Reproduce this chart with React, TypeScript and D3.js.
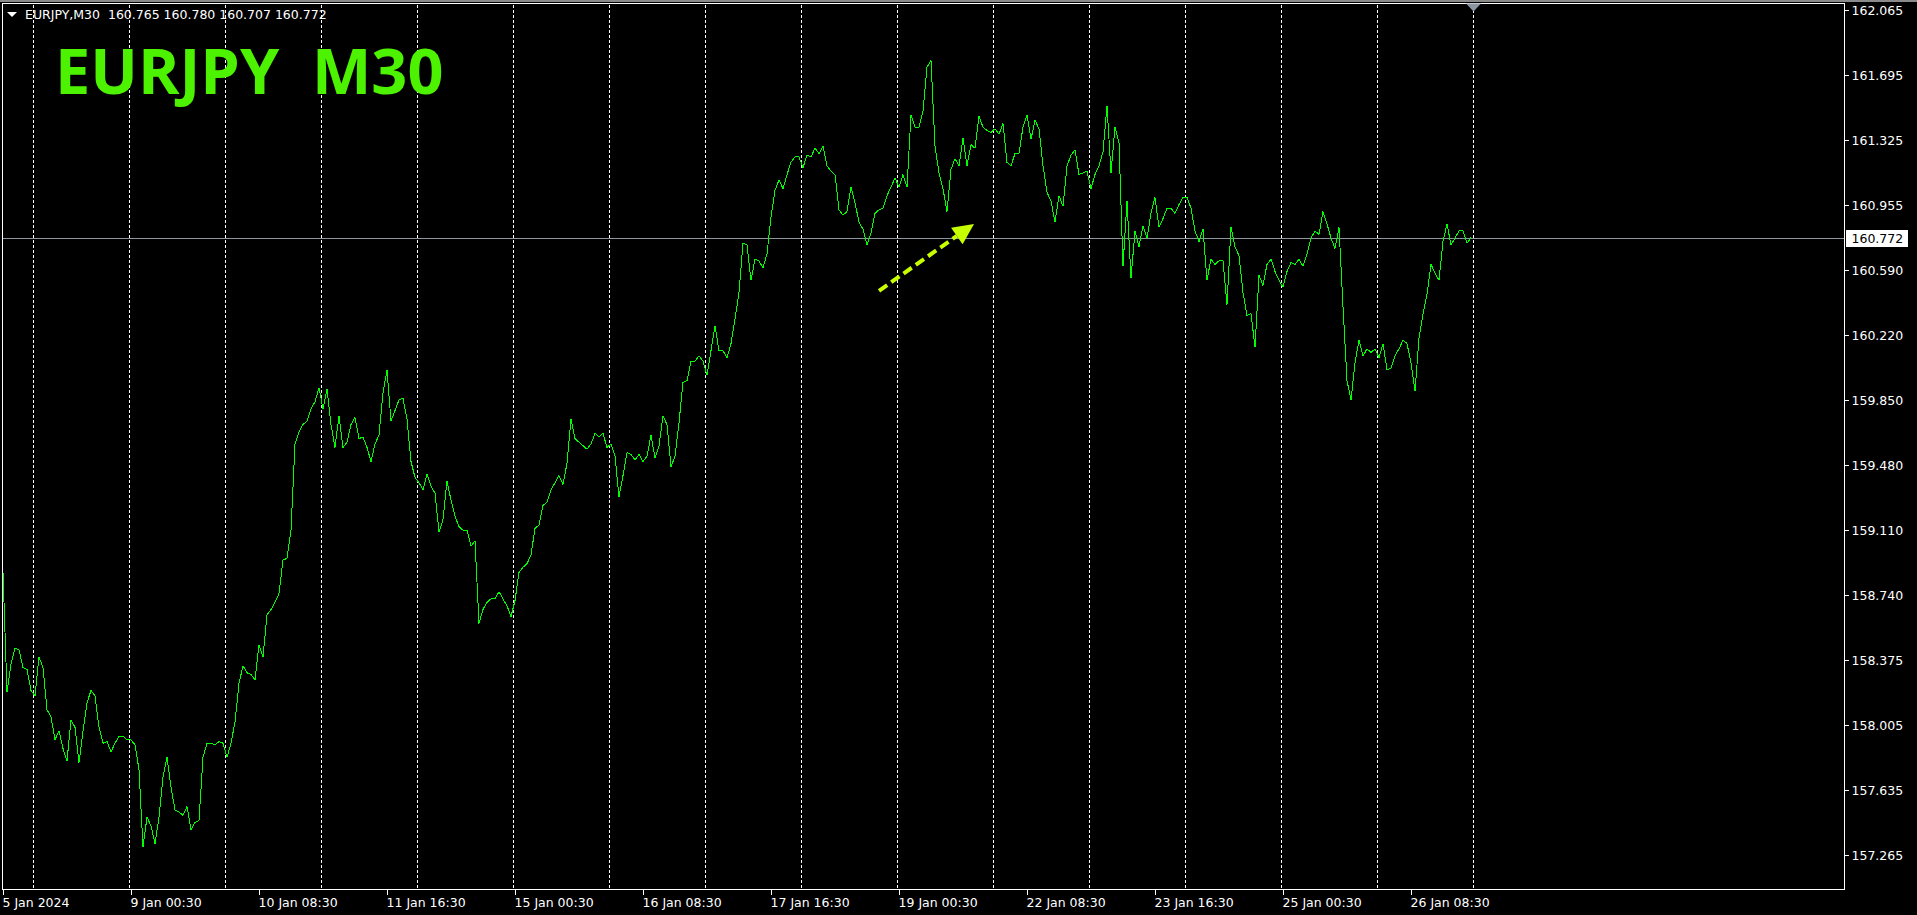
import { useEffect } from "react";
import * as d3 from "d3";

// header / title
const symbolName = "EURJPY,M30";
const titleText = "EURJPY  M30";
const lastQuote = [160.765, 160.78, 160.707, 160.772]; // open high low close
const currentPrice = 160.772;

const yTickLabels = [
  "162.065", "161.695", "161.325", "160.955", "160.590", "160.220", "159.850",
  "159.480", "159.110", "158.740", "158.375", "158.005", "157.635", "157.265",
];

const xTickLabels = [
  "5 Jan 2024", "9 Jan 00:30", "10 Jan 08:30", "11 Jan 16:30", "15 Jan 00:30", "16 Jan 08:30",
  "17 Jan 16:30", "19 Jan 00:30", "22 Jan 08:30", "23 Jan 16:30", "25 Jan 00:30", "26 Jan 08:30",
];

// closes, one every second M30 bar (hourly), 5 Jan 16:30 -> 26 Jan 23:30
const closes = [
  158.87, 158.19, 158.35, 158.44, 158.43, 158.33, 158.32, 158.2, 158.17, 158.39,
  158.33, 158.09, 158.05, 157.92, 157.97, 157.87, 157.8, 158.03, 157.99, 157.79,
  157.97, 158.13, 158.2, 158.17, 157.99, 157.9, 157.91, 157.85, 157.9, 157.94,
  157.94, 157.92, 157.92, 157.89, 157.75, 157.31, 157.48, 157.43, 157.33, 157.48,
  157.71, 157.82, 157.65, 157.52, 157.51, 157.49, 157.54, 157.41, 157.45, 157.46,
  157.82, 157.9, 157.9, 157.89, 157.91, 157.9, 157.82, 157.9, 158.02, 158.24,
  158.34, 158.3, 158.29, 158.26, 158.46, 158.39, 158.63, 158.66, 158.7, 158.75,
  158.94, 158.95, 159.11, 159.6, 159.67,
  159.71, 159.73, 159.8, 159.84, 159.92, 159.8, 159.91, 159.71, 159.58, 159.76,
  159.58, 159.61, 159.71, 159.75, 159.63, 159.64, 159.58, 159.5, 159.6, 159.65,
  159.89, 160.02, 159.73, 159.79, 159.85, 159.86, 159.74, 159.5, 159.41, 159.38,
  159.34, 159.43, 159.36, 159.32, 159.1, 159.17, 159.39, 159.28, 159.19, 159.13,
  159.11, 159.11, 159.02, 159.05, 158.58, 158.66, 158.7, 158.72, 158.72, 158.76,
  158.72, 158.68, 158.62, 158.71, 158.87, 158.9, 158.92, 158.97, 159.12, 159.14,
  159.25, 159.27, 159.34, 159.38, 159.42, 159.37, 159.49, 159.74, 159.63, 159.61,
  159.59, 159.57,
  159.6, 159.66, 159.64, 159.66, 159.58, 159.6, 159.53, 159.3, 159.42, 159.55,
  159.54, 159.51, 159.54, 159.5, 159.53, 159.65, 159.52, 159.59, 159.76, 159.71,
  159.47, 159.53, 159.72, 159.95, 159.96, 160.07, 160.07, 160.1, 160.07, 159.99,
  160.13, 160.27, 160.13, 160.13, 160.09, 160.17, 160.31, 160.46, 160.74, 160.73,
  160.53, 160.65, 160.64, 160.6, 160.68, 160.89, 161.04, 161.1, 161.05, 161.13,
  161.2, 161.23, 161.23, 161.17, 161.24, 161.23, 161.28, 161.25, 161.29, 161.18,
  161.15, 161.13, 160.93, 160.9, 160.92, 161.06, 160.97, 160.86, 160.82, 160.73,
  160.8, 160.91, 160.93,
  160.94, 161.01, 161.06, 161.11, 161.06, 161.13, 161.06, 161.47, 161.4, 161.4,
  161.49, 161.74, 161.78, 161.29, 161.14, 161.05, 160.92, 161.16, 161.22, 161.18,
  161.34, 161.18, 161.3, 161.28, 161.46, 161.4, 161.38, 161.37, 161.39, 161.36,
  161.42, 161.2, 161.18, 161.25, 161.25, 161.4, 161.47, 161.33, 161.44, 161.39,
  161.18, 161.03, 160.98, 160.86, 161.01, 160.95, 161.18, 161.24, 161.27, 161.13,
  161.14, 161.15, 161.05, 161.13, 161.18, 161.26, 161.52, 161.14, 161.4, 161.31,
  160.61, 160.98, 160.54, 160.81, 160.72, 160.84, 160.77, 160.91, 161.0, 160.83,
  160.88, 160.94,
  160.94, 160.91, 160.96, 161.0, 161.0, 160.94, 160.81, 160.75, 160.82, 160.53,
  160.65, 160.62, 160.64, 160.64, 160.39, 160.83, 160.72, 160.67, 160.46, 160.33,
  160.34, 160.15, 160.56, 160.5, 160.62, 160.65, 160.58, 160.53, 160.49, 160.58,
  160.63, 160.62, 160.65, 160.61, 160.68, 160.77, 160.81, 160.79, 160.92, 160.85,
  160.77, 160.71, 160.83, 160.38, 159.96, 159.85, 160.06, 160.19, 160.1, 160.14,
  160.12, 160.14, 160.09, 160.17, 160.02, 160.03, 160.1, 160.14, 160.19, 160.17,
  160.06, 159.9, 160.2, 160.34, 160.45, 160.62, 160.57, 160.53, 160.75, 160.85,
  160.73, 160.77, 160.81, 160.81, 160.74, 160.772,
];

// annotation arrow, in bar / price space
const arrowFrom = { bar: 438, price: 160.47 };
const arrowTo = { bar: 485.5, price: 160.85 };

const barsPerPoint = 2;
const barsPerLabel = 64;
const firstMidnightBar = 15;
const barsPerDay = 48;
const totalBars = 735;

const W = 1917;
const H = 915;
const frameL = 2.5;
const frameT = 3.5;
const frameR = 1844.5;
const frameB = 889.5;
const axisFont = "'DejaVu Sans', sans-serif";

export default function App() {
  useEffect(() => {
    document.body.style.margin = "0";
    document.body.style.background = "#000";
  }, []);

  const x = d3.scaleLinear().domain([0, totalBars]).range([3, 1473]);
  const y = d3.scaleLinear().domain([157.265, 162.065]).range([855, 10]);

  const line = d3
    .line<number>()
    .x((_, i) => x(i * barsPerPoint))
    .y((d) => y(d));

  const gridBars = d3.range(firstMidnightBar, totalBars + 1, barsPerDay);

  // arrow geometry
  const ax0 = x(arrowFrom.bar);
  const ay0 = y(arrowFrom.price);
  const ax1 = x(arrowTo.bar);
  const ay1 = y(arrowTo.price);
  const len = Math.hypot(ax1 - ax0, ay1 - ay0);
  const ux = (ax1 - ax0) / len;
  const uy = (ay1 - ay0) / len;
  const headLen = 21;
  const headHalf = 10;
  const bx = ax1 - ux * headLen;
  const by = ay1 - uy * headLen;
  const head = [
    [ax1, ay1],
    [bx - uy * headHalf, by + ux * headHalf],
    [bx + uy * headHalf, by - ux * headHalf],
  ]
    .map((p) => p.join(","))
    .join(" ");

  const priceY = Math.round(y(currentPrice)) + 0.5;

  return (
    <svg
      width={W}
      height={H}
      style={{ display: "block", background: "#000" }}
    >
      <rect x={0} y={0} width={W} height={H} fill="#000" />
      <rect x={0} y={0} width={W} height={2} fill="#8a8a8a" />

      {/* vertical grid */}
      {gridBars.map((b) => (
        <line
          key={b}
          x1={Math.round(x(b)) + 0.5}
          x2={Math.round(x(b)) + 0.5}
          y1={frameT + 1}
          y2={frameB - 1}
          stroke="#ffffff"
          strokeDasharray="3,2"
          shapeRendering="crispEdges"
        />
      ))}

      {/* current price line */}
      <line
        x1={frameL}
        x2={frameR}
        y1={priceY}
        y2={priceY}
        stroke="#8c96a0"
        shapeRendering="crispEdges"
      />

      <path
        d={line(closes) || ""}
        fill="none"
        stroke="#00ff00"
        strokeWidth={1}
        shapeRendering="crispEdges"
      />

      {/* arrow annotation */}
      <line
        x1={ax0}
        y1={ay0}
        x2={bx}
        y2={by}
        stroke="#c8ff00"
        strokeWidth={4}
        strokeDasharray="10,5"
      />
      <polygon points={head} fill="#c8ff00" />

      <text
        x={55}
        y={94}
        fill="#4cf200"
        fontFamily="'Open Sans', sans-serif"
        fontWeight={700}
        fontSize={63}
        style={{ whiteSpace: "pre" }}
      >
        {titleText}
      </text>

      {/* header */}
      <polygon points="7,12 17,12 12,17" fill="#ffffff" />
      <text
        x={25}
        y={19}
        fill="#ffffff"
        fontFamily={axisFont}
        fontSize={12.5}
        style={{ whiteSpace: "pre" }}
      >
        {symbolName + "  " + lastQuote.map((v) => v.toFixed(3)).join(" ")}
      </text>

      {/* frame */}
      <rect
        x={frameL}
        y={frameT}
        width={frameR - frameL}
        height={frameB - frameT}
        fill="none"
        stroke="#ffffff"
        shapeRendering="crispEdges"
      />

      {/* chart shift marker */}
      <polygon
        points={`${x(totalBars) - 7},${frameT} ${x(totalBars) + 8},${frameT} ${x(totalBars) + 0.5},${frameT + 8}`}
        fill="#8c96a0"
      />

      {/* price axis */}
      {yTickLabels.map((t) => {
        const ty = Math.round(y(+t)) + 0.5;
        return (
          <g key={t}>
            <line
              x1={frameR}
              x2={frameR + 4}
              y1={ty}
              y2={ty}
              stroke="#ffffff"
              shapeRendering="crispEdges"
            />
            <text
              x={frameR + 7}
              y={ty}
              dy="0.36em"
              fill="#ffffff"
              fontFamily={axisFont}
              fontSize={12.5}
            >
              {t}
            </text>
          </g>
        );
      })}

      <rect x={frameR + 1.5} y={priceY - 8.5} width={62} height={17} fill="#ffffff" />
      <text
        x={frameR + 7}
        y={priceY}
        dy="0.36em"
        fill="#000000"
        fontFamily={axisFont}
        fontSize={12.5}
      >
        {currentPrice.toFixed(3)}
      </text>

      {/* time axis */}
      {xTickLabels.map((t, i) => {
        const tx = Math.round(x(i * barsPerLabel)) + 0.5;
        return (
          <g key={t}>
            <line
              x1={tx}
              x2={tx}
              y1={frameB}
              y2={frameB + 5}
              stroke="#ffffff"
              shapeRendering="crispEdges"
            />
            <text
              x={tx - 1}
              y={907}
              fill="#ffffff"
              fontFamily={axisFont}
              fontSize={12.5}
            >
              {t}
            </text>
          </g>
        );
      })}
    </svg>
  );
}
